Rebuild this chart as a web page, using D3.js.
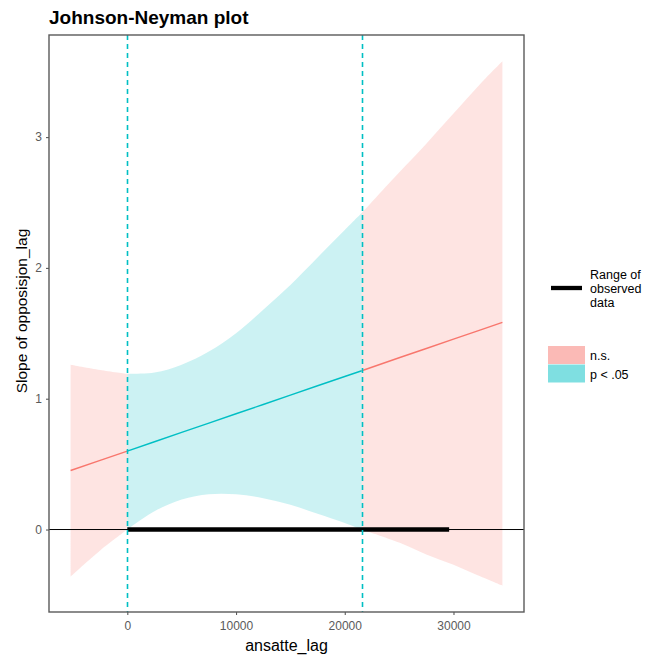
<!DOCTYPE html>
<html>
<head>
<meta charset="utf-8">
<title>Johnson-Neyman plot</title>
<style>
  body { margin: 0; background: #fff; }
  svg text { font-family: "Liberation Sans", Arial, sans-serif; }
</style>
</head>
<body>
<svg id="chart" width="651" height="659"></svg>
<script src="https://cdnjs.cloudflare.com/ajax/libs/d3/7.8.5/d3.min.js"></script>
<script>
// values
var xVals     = [-5216, -2500, 0, 2500, 5000, 7500, 10000, 12500, 15000, 17500, 20000, 21560, 25000, 27500, 30000, 32500, 34500];
var estVals   = [0.451, 0.529, 0.600, 0.671, 0.743, 0.814, 0.885, 0.956, 1.028, 1.099, 1.170, 1.214, 1.313, 1.384, 1.455, 1.526, 1.583];
var lowerVals = [-0.36, -0.16, 0.00, 0.14, 0.23, 0.27, 0.27, 0.24, 0.19, 0.12, 0.05, 0.00, -0.10, -0.19, -0.27, -0.36, -0.43];
var upperVals = [1.26, 1.22, 1.19, 1.20, 1.26, 1.36, 1.50, 1.68, 1.87, 2.08, 2.29, 2.42, 2.73, 2.95, 3.18, 3.41, 3.58];
var jnBounds = [0, 21560];
var observedRange = [0, 29600];
var xTicks = [0, 10000, 20000, 30000];
var yTicks = [0, 1, 2, 3];
var legendLabels = ["n.s.", "p < .05"];

var colNs = "#F8766D", colSig = "#00BFC4";

var pts = xVals.map(function(x, i) {
  return {x: x, est: estVals[i], lo: lowerVals[i], hi: upperVals[i]};
});

// panel box (window.top is reserved, so use a prefix)
var pLeft = 49, pRight = 524, pTop = 35, pBottom = 612;
var svg = d3.select("#chart");

// ggplot style 5% expansion
var xExt = d3.extent(xVals), xPad = (xExt[1] - xExt[0]) * 0.05;
var yExt = [d3.min(lowerVals), d3.max(upperVals)], yPad = (yExt[1] - yExt[0]) * 0.05;
var x = d3.scaleLinear().domain([xExt[0] - xPad, xExt[1] + xPad]).range([pLeft, pRight]);
var y = d3.scaleLinear().domain([yExt[0] - yPad, yExt[1] + yPad]).range([pBottom, pTop]);

var segs = [
  {col: colNs,  data: pts.filter(function(d) { return d.x <= jnBounds[0]; })},
  {col: colSig, data: pts.filter(function(d) { return d.x >= jnBounds[0] && d.x <= jnBounds[1]; })},
  {col: colNs,  data: pts.filter(function(d) { return d.x >= jnBounds[1]; })}
];

var area = d3.area().curve(d3.curveCatmullRom)
  .x(function(d) { return x(d.x); })
  .y0(function(d) { return y(d.lo); })
  .y1(function(d) { return y(d.hi); });
var line = d3.line()
  .x(function(d) { return x(d.x); })
  .y(function(d) { return y(d.est); });

svg.selectAll(".band").data(segs).enter().append("path")
  .attr("d", function(d) { return area(d.data); })
  .attr("fill", function(d) { return d.col; })
  .attr("fill-opacity", 0.2);

svg.selectAll(".est").data(segs).enter().append("path")
  .attr("d", function(d) { return line(d.data); })
  .attr("fill", "none")
  .attr("stroke", function(d) { return d.col; })
  .attr("stroke-width", 1.4);

// zero line and observed range
svg.append("line")
  .attr("x1", pLeft).attr("x2", pRight)
  .attr("y1", y(0)).attr("y2", y(0))
  .attr("stroke", "#000").attr("stroke-width", 1);
svg.append("line")
  .attr("x1", x(observedRange[0])).attr("x2", x(observedRange[1]))
  .attr("y1", y(0)).attr("y2", y(0))
  .attr("stroke", "#000").attr("stroke-width", 4.3);

// JN bounds, snapped to the pixel grid so the dashes stay bright
svg.selectAll(".jn").data(jnBounds).enter().append("line")
  .attr("x1", function(d) { return Math.round(x(d)) + 0.5; })
  .attr("x2", function(d) { return Math.round(x(d)) + 0.5; })
  .attr("y1", pTop).attr("y2", pBottom)
  .attr("stroke", colSig).attr("stroke-width", 1.6)
  .attr("stroke-dasharray", "5,4");

// panel border
svg.append("rect")
  .attr("x", pLeft).attr("y", pTop)
  .attr("width", pRight - pLeft).attr("height", pBottom - pTop)
  .attr("fill", "none").attr("stroke", "#5a5a5a").attr("stroke-width", 1.4);

// axes
var xAxis = svg.append("g").attr("transform", "translate(0," + pBottom + ")")
  .call(d3.axisBottom(x).tickValues(xTicks).tickSize(3).tickPadding(6).tickFormat(d3.format("d")));
var yAxis = svg.append("g").attr("transform", "translate(" + pLeft + ",0)")
  .call(d3.axisLeft(y).tickValues(yTicks).tickSize(3).tickPadding(4).tickFormat(d3.format("d")));
[xAxis, yAxis].forEach(function(g) {
  g.select(".domain").remove();
  g.selectAll(".tick line").attr("stroke", "#5a5a5a").attr("stroke-width", 1.1);
  g.selectAll(".tick text").attr("fill", "#5a5a5a")
    .style("font-family", "'Liberation Sans', Arial, sans-serif").style("font-size", "12px");
});

// titles
svg.append("text").attr("x", 49).attr("y", 24)
  .style("font-size", "19px").style("font-weight", "bold").text("Johnson-Neyman plot");
svg.append("text").attr("x", (pLeft + pRight) / 2).attr("y", 651)
  .attr("text-anchor", "middle").style("font-size", "16px").text("ansatte_lag");
svg.append("text")
  .attr("transform", "translate(27,311) rotate(-90)")
  .attr("text-anchor", "middle").style("font-size", "15.5px").text("Slope of opposisjon_lag");

// legend
var lg = svg.append("g");
lg.append("line").attr("x1", 551).attr("x2", 582).attr("y1", 288).attr("y2", 288)
  .attr("stroke", "#000").attr("stroke-width", 4.3);
lg.append("text").attr("x", 590).attr("y", 279).style("font-size", "12.5px")
  .selectAll("tspan").data(["Range of", "observed", "data"]).enter().append("tspan")
  .attr("x", 590).attr("dy", function(d, i) { return i ? 14.2 : 0; }).text(function(d) { return d; });

var keys = lg.selectAll(".key").data(legendLabels).enter().append("g")
  .attr("transform", function(d, i) { return "translate(548," + (346 + i * 18.5) + ")"; });
keys.append("rect").attr("width", 37).attr("height", 18)
  .attr("fill", function(d, i) { return i ? colSig : colNs; }).attr("fill-opacity", 0.5);
keys.append("text").attr("x", 42).attr("y", 14).style("font-size", "12.5px")
  .text(function(d) { return d; });
</script>
</body>
</html>
